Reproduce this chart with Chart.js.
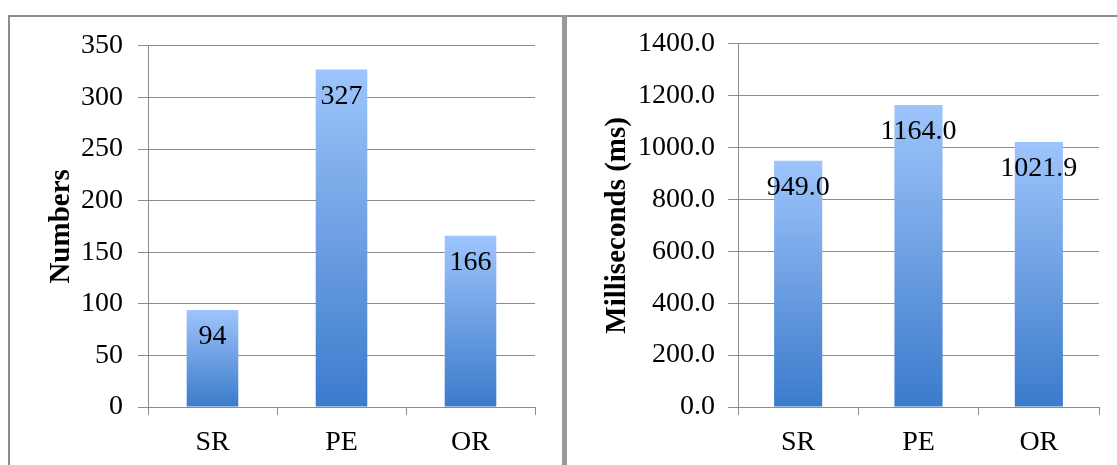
<!DOCTYPE html>
<html lang="en">
<head>
<meta charset="UTF-8">
<title>Numbers and Milliseconds by type</title>
<script src="https://cdn.jsdelivr.net/npm/chart.js"></script>
<style>
    body {
        margin: 0;
        padding: 0;
        background: #fff;
        width: 1117px;
        height: 465px;
        overflow: hidden;
        position: relative;
    }
    .line {
        position: absolute;
        background: #8c8c8c;
    }
    .box {
        position: absolute;
    }
</style>
</head>
<body>
<div class="line" style="left:8px; top:15px; width:1109px; height:2px;"></div>
<div class="line" style="left:8px; top:15px; width:2px; height:450px;"></div>
<div class="line" style="left:562px; top:15px; width:5px; height:450px; background:#999;"></div>

<div class="box" style="left:10px; top:14px; width:552px; height:451px;">
    <canvas id="countChart"></canvas>
</div>
<div class="box" style="left:567px; top:14px; width:550px; height:451px;">
    <canvas id="timeChart"></canvas>
</div>

<script>
    var categories = ['SR', 'PE', 'OR'];
    var counts = [94, 327, 166];
    var times = [949.0, 1164.0, 1021.9];

    var serif = '"Liberation Serif", "Times New Roman", serif';
    var gridColor = '#8c8c8c';

    // vertical gradient per bar, light at the top and dark at the base
    function barGradient(context) {
        var chart = context.chart;
        var y = chart.scales.y;
        if (!chart.chartArea || !y) {
            return '#6a9de0';
        }
        var top = y.getPixelForValue(context.raw);
        var bottom = y.getPixelForValue(0);
        if (!isFinite(top) || !isFinite(bottom) || top === bottom) {
            return '#6a9de0';
        }
        var g = chart.ctx.createLinearGradient(0, top, 0, bottom);
        g.addColorStop(0, '#9ec5fc');
        g.addColorStop(0.5, '#6d9fe2');
        g.addColorStop(1, '#3b7bcc');
        return g;
    }

    // value written inside each bar, a little below its top
    var valueLabels = {
        id: 'valueLabels',
        afterDatasetsDraw: function(chart, args, opts) {
            var ctx = chart.ctx;
            var meta = chart.getDatasetMeta(0);
            var data = chart.data.datasets[0].data;
            ctx.save();
            ctx.font = '28px ' + serif;
            ctx.fillStyle = '#000';
            ctx.textAlign = 'center';
            ctx.textBaseline = 'middle';
            meta.data.forEach(function(bar, i) {
                ctx.fillText(opts.format(data[i]), bar.x, bar.y + 27);
            });
            ctx.restore();
        }
    };

    function makeChart(id, values, opt) {
        var ctx = document.getElementById(id).getContext('2d');
        return new Chart(ctx, {
            type: 'bar',
            data: {
                labels: categories,
                datasets: [{
                    data: values,
                    backgroundColor: barGradient,
                    borderWidth: 0,
                    categoryPercentage: 1.0,
                    barPercentage: 0.4
                }]
            },
            options: {
                responsive: true,
                maintainAspectRatio: false,
                animation: false,
                layout: {
                    padding: { top: 25, right: opt.rightPad, bottom: 0, left: 0 }
                },
                plugins: {
                    legend: { display: false },
                    tooltip: { enabled: false },
                    valueLabels: { format: opt.format }
                },
                scales: {
                    x: {
                        grid: {
                            offset: true,
                            drawOnChartArea: false,
                            drawTicks: true,
                            tickLength: 8,
                            color: gridColor
                        },
                        border: { display: true, color: gridColor },
                        ticks: {
                            color: '#000',
                            padding: 11,
                            font: { family: serif, size: 28 }
                        },
                        afterFit: function(scale) { scale.height = 58; }
                    },
                    y: {
                        min: 0,
                        max: opt.max,
                        grid: {
                            color: gridColor,
                            tickLength: 10
                        },
                        border: { display: true, color: gridColor },
                        ticks: {
                            stepSize: opt.step,
                            color: '#000',
                            padding: opt.tickPad,
                            font: { family: serif, size: 28 },
                            callback: opt.tickFormat
                        },
                        title: {
                            display: true,
                            text: opt.title,
                            color: '#000',
                            padding: { top: opt.titlePad, bottom: 0 },
                            font: { family: serif, size: 29, weight: 'bold' }
                        },
                        afterFit: function(scale) { scale.width = opt.axisWidth; }
                    }
                }
            },
            plugins: [valueLabels]
        });
    }

    makeChart('countChart', counts, {
        title: 'Numbers',
        max: 350,
        step: 50,
        axisWidth: 138,
        rightPad: 27,
        tickPad: 15,
        titlePad: 34,
        tickFormat: function(v) { return v; },
        format: function(v) { return String(v); }
    });

    makeChart('timeChart', times, {
        title: 'Milliseconds (ms)',
        max: 1400,
        step: 200,
        axisWidth: 171,
        rightPad: 18,
        tickPad: 13,
        titlePad: 33,
        tickFormat: function(v) { return v.toFixed(1); },
        format: function(v) { return v.toFixed(1); }
    });
</script>
</body>
</html>
